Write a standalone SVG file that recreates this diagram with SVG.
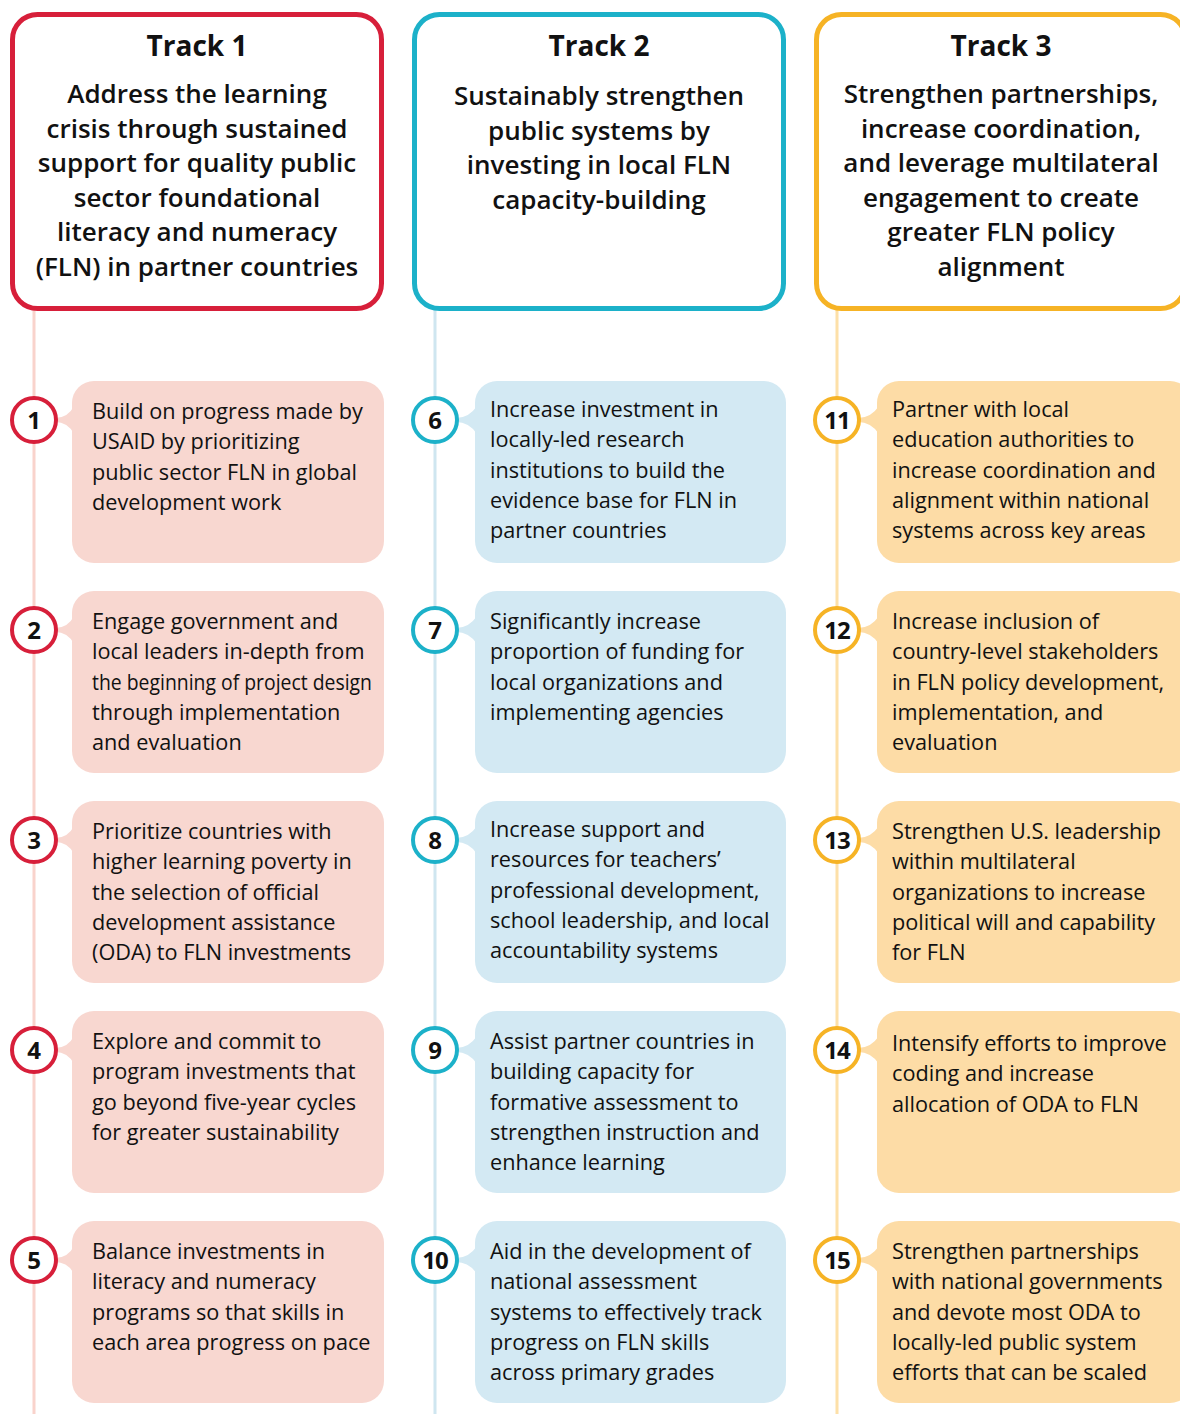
<svg xmlns="http://www.w3.org/2000/svg" width="1180" height="1414" viewBox="0 0 1180 1414">
<style>
.hdr{fill:#fff;stroke-width:5}
.t{font-family:"Open Sans","Noto Sans","Liberation Sans",sans-serif;fill:#111}
.title{font-size:28px;font-weight:700;text-anchor:middle}
.sub{font-size:26px;font-weight:600;text-anchor:middle}
.body{font-size:21.7px;font-weight:400}
.num{font-size:24px;font-weight:700;text-anchor:middle}
.c{fill:#fff;stroke-width:4}
.r1{stroke:#d71f3a}.r2{stroke:#1cb1c9}.r3{stroke:#f6b325}
.f1{fill:#f8d7d0}.f2{fill:#d3e9f3}.f3{fill:#fddca6}
.l1{stroke:#f9d3cc}.l2{stroke:#cfe6f0}.l3{stroke:#fde0a8}
</style>
<rect width="1180" height="1414" fill="#fff"/>
<g id="connectors" stroke-width="3">
<line class="l1" x1="34" y1="310" x2="34" y2="1414"/>
<line class="l2" x1="435" y1="310" x2="435" y2="1414"/>
<line class="l3" x1="837" y1="310" x2="837" y2="1414"/>
</g>
<g id="track1">
<rect class="hdr r1" x="12.5" y="14.5" width="369" height="294" rx="25" fill="#fff" stroke="#d71f3a"/>
<text class="t title" x="197" y="56">Track 1</text>
<text class="t sub" x="197" y="103">Address the learning</text>
<text class="t sub" x="197" y="138">crisis through sustained</text>
<text class="t sub" x="197" y="172">support for quality public</text>
<text class="t sub" x="197" y="207">sector foundational</text>
<text class="t sub" x="197" y="241">literacy and numeracy</text>
<text class="t sub" x="197" y="276">(FLN) in partner countries</text>
</g>
<g id="track2">
<rect class="hdr r2" x="414.5" y="14.5" width="369" height="294" rx="25" fill="#fff" stroke="#1cb1c9"/>
<text class="t title" x="599" y="56">Track 2</text>
<text class="t sub" x="599" y="105">Sustainably strengthen</text>
<text class="t sub" x="599" y="140">public systems by</text>
<text class="t sub" x="599" y="174">investing in local FLN</text>
<text class="t sub" x="599" y="209">capacity-building</text>
</g>
<g id="track3">
<rect class="hdr r3" x="816.5" y="14.5" width="369" height="294" rx="25" fill="#fff" stroke="#f6b325"/>
<text class="t title" x="1001" y="56">Track 3</text>
<text class="t sub" x="1001" y="103">Strengthen partnerships,</text>
<text class="t sub" x="1001" y="138">increase coordination,</text>
<text class="t sub" x="1001" y="172">and leverage multilateral</text>
<text class="t sub" x="1001" y="207">engagement to create</text>
<text class="t sub" x="1001" y="241">greater FLN policy</text>
<text class="t sub" x="1001" y="276">alignment</text>
</g>

<!-- Track 1 items -->
<g id="item1">
<rect class="f1" x="72" y="381" width="312" height="182" rx="22"/>
<path class="f1" d="M55 418 Q68 418 74 406 L74 434 Q68 422 55 422 Z"/>
<circle class="c r1" cx="34" cy="420" r="22"/>
<text class="t num" x="34" y="429">1</text>
<text class="t body" x="92" y="419">Build on progress made by</text>
<text class="t body" x="92" y="449">USAID by prioritizing</text>
<text class="t body" x="92" y="480">public sector FLN in global</text>
<text class="t body" x="92" y="510">development work</text>
</g>
<g id="item2">
<rect class="f1" x="72" y="591" width="312" height="182" rx="22"/>
<path class="f1" d="M55 628 Q68 628 74 616 L74 644 Q68 632 55 632 Z"/>
<circle class="c r1" cx="34" cy="630" r="22"/>
<text class="t num" x="34" y="639">2</text>
<text class="t body" x="92" y="629">Engage government and</text>
<text class="t body" x="92" y="659">local leaders in-depth from</text>
<text class="t body" x="92" y="690" textLength="280" lengthAdjust="spacingAndGlyphs">the beginning of project design</text>
<text class="t body" x="92" y="720">through implementation</text>
<text class="t body" x="92" y="750">and evaluation</text>
</g>
<g id="item3">
<rect class="f1" x="72" y="801" width="312" height="182" rx="22"/>
<path class="f1" d="M55 838 Q68 838 74 826 L74 854 Q68 842 55 842 Z"/>
<circle class="c r1" cx="34" cy="840" r="22"/>
<text class="t num" x="34" y="849">3</text>
<text class="t body" x="92" y="839">Prioritize countries with</text>
<text class="t body" x="92" y="869">higher learning poverty in</text>
<text class="t body" x="92" y="900">the selection of official</text>
<text class="t body" x="92" y="930">development assistance</text>
<text class="t body" x="92" y="960">(ODA) to FLN investments</text>
</g>
<g id="item4">
<rect class="f1" x="72" y="1011" width="312" height="182" rx="22"/>
<path class="f1" d="M55 1048 Q68 1048 74 1036 L74 1064 Q68 1052 55 1052 Z"/>
<circle class="c r1" cx="34" cy="1050" r="22"/>
<text class="t num" x="34" y="1059">4</text>
<text class="t body" x="92" y="1049">Explore and commit to</text>
<text class="t body" x="92" y="1079">program investments that</text>
<text class="t body" x="92" y="1110">go beyond five-year cycles</text>
<text class="t body" x="92" y="1140">for greater sustainability</text>
</g>
<g id="item5">
<rect class="f1" x="72" y="1221" width="312" height="182" rx="22"/>
<path class="f1" d="M55 1258 Q68 1258 74 1246 L74 1274 Q68 1262 55 1262 Z"/>
<circle class="c r1" cx="34" cy="1260" r="22"/>
<text class="t num" x="34" y="1269">5</text>
<text class="t body" x="92" y="1259">Balance investments in</text>
<text class="t body" x="92" y="1289">literacy and numeracy</text>
<text class="t body" x="92" y="1320">programs so that skills in</text>
<text class="t body" x="92" y="1350">each area progress on pace</text>
</g>

<!-- Track 2 items -->
<g id="item6">
<rect class="f2" x="475" y="381" width="311" height="182" rx="22"/>
<path class="f2" d="M456 418 Q469 418 477 406 L477 434 Q469 422 456 422 Z"/>
<circle class="c r2" cx="435" cy="420" r="22"/>
<text class="t num" x="435" y="429">6</text>
<text class="t body" x="490" y="417">Increase investment in</text>
<text class="t body" x="490" y="447">locally-led research</text>
<text class="t body" x="490" y="478">institutions to build the</text>
<text class="t body" x="490" y="508">evidence base for FLN in</text>
<text class="t body" x="490" y="538">partner countries</text>
</g>
<g id="item7">
<rect class="f2" x="475" y="591" width="311" height="182" rx="22"/>
<path class="f2" d="M456 628 Q469 628 477 616 L477 644 Q469 632 456 632 Z"/>
<circle class="c r2" cx="435" cy="630" r="22"/>
<text class="t num" x="435" y="639">7</text>
<text class="t body" x="490" y="629">Significantly increase</text>
<text class="t body" x="490" y="659">proportion of funding for</text>
<text class="t body" x="490" y="690">local organizations and</text>
<text class="t body" x="490" y="720">implementing agencies</text>
</g>
<g id="item8">
<rect class="f2" x="475" y="801" width="311" height="182" rx="22"/>
<path class="f2" d="M456 838 Q469 838 477 826 L477 854 Q469 842 456 842 Z"/>
<circle class="c r2" cx="435" cy="840" r="22"/>
<text class="t num" x="435" y="849">8</text>
<text class="t body" x="490" y="837">Increase support and</text>
<text class="t body" x="490" y="867">resources for teachers’</text>
<text class="t body" x="490" y="898">professional development,</text>
<text class="t body" x="490" y="928">school leadership, and local</text>
<text class="t body" x="490" y="958">accountability systems</text>
</g>
<g id="item9">
<rect class="f2" x="475" y="1011" width="311" height="182" rx="22"/>
<path class="f2" d="M456 1048 Q469 1048 477 1036 L477 1064 Q469 1052 456 1052 Z"/>
<circle class="c r2" cx="435" cy="1050" r="22"/>
<text class="t num" x="435" y="1059">9</text>
<text class="t body" x="490" y="1049">Assist partner countries in</text>
<text class="t body" x="490" y="1079">building capacity for</text>
<text class="t body" x="490" y="1110">formative assessment to</text>
<text class="t body" x="490" y="1140">strengthen instruction and</text>
<text class="t body" x="490" y="1170">enhance learning</text>
</g>
<g id="item10">
<rect class="f2" x="475" y="1221" width="311" height="182" rx="22"/>
<path class="f2" d="M456 1258 Q469 1258 477 1246 L477 1274 Q469 1262 456 1262 Z"/>
<circle class="c r2" cx="435" cy="1260" r="22"/>
<text class="t num" x="435" y="1269" letter-spacing="-1">10</text>
<text class="t body" x="490" y="1259">Aid in the development of</text>
<text class="t body" x="490" y="1289">national assessment</text>
<text class="t body" x="490" y="1320">systems to effectively track</text>
<text class="t body" x="490" y="1350">progress on FLN skills</text>
<text class="t body" x="490" y="1380">across primary grades</text>
</g>

<!-- Track 3 items -->
<g id="item11">
<rect class="f3" x="877" y="381" width="315" height="182" rx="22"/>
<path class="f3" d="M858 418 Q871 418 879 406 L879 434 Q871 422 858 422 Z"/>
<circle class="c r3" cx="837" cy="420" r="22"/>
<text class="t num" x="837" y="429" letter-spacing="-1">11</text>
<text class="t body" x="892" y="417">Partner with local</text>
<text class="t body" x="892" y="447">education authorities to</text>
<text class="t body" x="892" y="478">increase coordination and</text>
<text class="t body" x="892" y="508">alignment within national</text>
<text class="t body" x="892" y="538">systems across key areas</text>
</g>
<g id="item12">
<rect class="f3" x="877" y="591" width="315" height="182" rx="22"/>
<path class="f3" d="M858 628 Q871 628 879 616 L879 644 Q871 632 858 632 Z"/>
<circle class="c r3" cx="837" cy="630" r="22"/>
<text class="t num" x="837" y="639" letter-spacing="-1">12</text>
<text class="t body" x="892" y="629">Increase inclusion of</text>
<text class="t body" x="892" y="659">country-level stakeholders</text>
<text class="t body" x="892" y="690">in FLN policy development,</text>
<text class="t body" x="892" y="720">implementation, and</text>
<text class="t body" x="892" y="750">evaluation</text>
</g>
<g id="item13">
<rect class="f3" x="877" y="801" width="315" height="182" rx="22"/>
<path class="f3" d="M858 838 Q871 838 879 826 L879 854 Q871 842 858 842 Z"/>
<circle class="c r3" cx="837" cy="840" r="22"/>
<text class="t num" x="837" y="849" letter-spacing="-1">13</text>
<text class="t body" x="892" y="839">Strengthen U.S. leadership</text>
<text class="t body" x="892" y="869">within multilateral</text>
<text class="t body" x="892" y="900">organizations to increase</text>
<text class="t body" x="892" y="930">political will and capability</text>
<text class="t body" x="892" y="960">for FLN</text>
</g>
<g id="item14">
<rect class="f3" x="877" y="1011" width="315" height="182" rx="22"/>
<path class="f3" d="M858 1048 Q871 1048 879 1036 L879 1064 Q871 1052 858 1052 Z"/>
<circle class="c r3" cx="837" cy="1050" r="22"/>
<text class="t num" x="837" y="1059" letter-spacing="-1">14</text>
<text class="t body" x="892" y="1051">Intensify efforts to improve</text>
<text class="t body" x="892" y="1081">coding and increase</text>
<text class="t body" x="892" y="1112">allocation of ODA to FLN</text>
</g>
<g id="item15">
<rect class="f3" x="877" y="1221" width="315" height="182" rx="22"/>
<path class="f3" d="M858 1258 Q871 1258 879 1246 L879 1274 Q871 1262 858 1262 Z"/>
<circle class="c r3" cx="837" cy="1260" r="22"/>
<text class="t num" x="837" y="1269" letter-spacing="-1">15</text>
<text class="t body" x="892" y="1259">Strengthen partnerships</text>
<text class="t body" x="892" y="1289">with national governments</text>
<text class="t body" x="892" y="1320">and devote most ODA to</text>
<text class="t body" x="892" y="1350">locally-led public system</text>
<text class="t body" x="892" y="1380">efforts that can be scaled</text>
</g>
</svg>
